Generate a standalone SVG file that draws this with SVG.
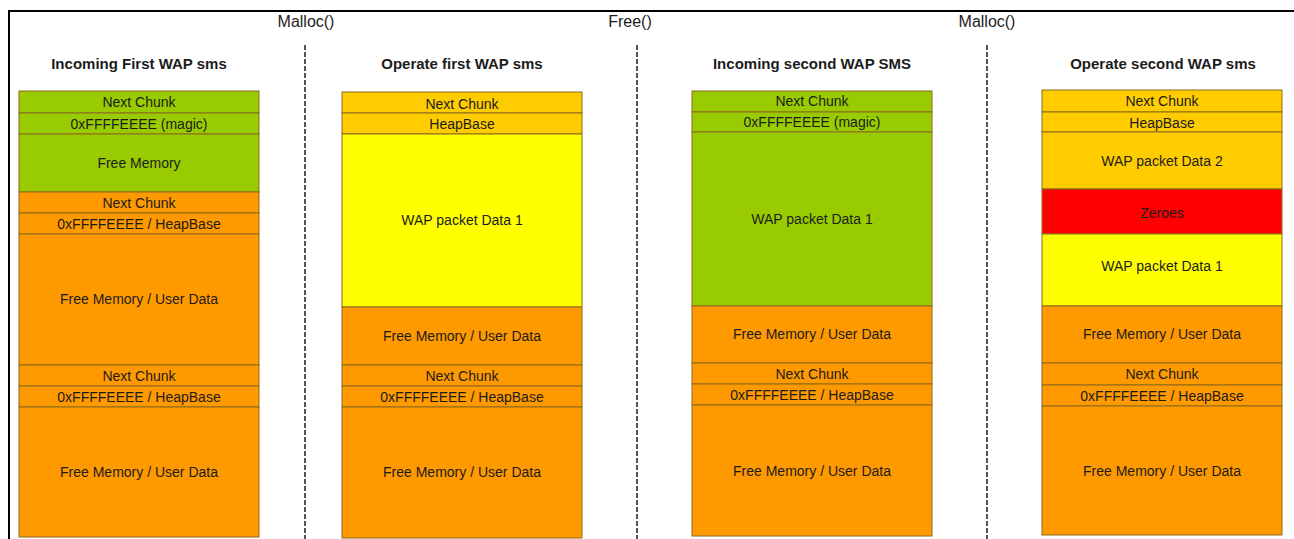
<svg xmlns="http://www.w3.org/2000/svg" width="1294" height="539" viewBox="0 0 1294 539">
<style>
text{font-family:"Liberation Sans",Arial,sans-serif;fill:#1c1c1c}
.op{font-size:16px;text-anchor:middle}
.ttl{font-size:15px;font-weight:bold;text-anchor:middle}
.c{font-size:14px;text-anchor:middle}
g rect{stroke:#8c6a1e;stroke-width:1}
.g{fill:#99CC00}
.o{fill:#FF9900}
.lo{fill:#FFCC00}
.y{fill:#FFFF00}
.r{fill:#FF0000}
.sep{stroke:#555;stroke-width:2;stroke-dasharray:5 2}
</style>
<rect x="0" y="0" width="1294" height="539" fill="#fff"/>
<path d="M9,539 V11 H1294" fill="none" stroke="#000" stroke-width="2"/>
<g id="ops">
<text class="op" x="306" y="27">Malloc()</text>
<text class="op" x="630" y="27">Free()</text>
<text class="op" x="987" y="27">Malloc()</text>
</g>
<g id="connectors">
<line class="sep" x1="305" y1="45" x2="305" y2="539"/>
<line class="sep" x1="637" y1="45" x2="637" y2="539"/>
<line class="sep" x1="987" y1="45" x2="987" y2="539"/>
</g>
<g id="col1">
<text class="ttl" x="139" y="69">Incoming First WAP sms</text>
<rect class="g" x="19" y="91" width="240" height="22"/><text class="c" x="139" y="107">Next Chunk</text>
<rect class="g" x="19" y="113" width="240" height="21"/><text class="c" x="139" y="128.5">0xFFFFEEEE (magic)</text>
<rect class="g" x="19" y="134" width="240" height="58"/><text class="c" x="139" y="168">Free Memory</text>
<rect class="o" x="19" y="192" width="240" height="21"/><text class="c" x="139" y="207.5">Next Chunk</text>
<rect class="o" x="19" y="213" width="240" height="21"/><text class="c" x="139" y="228.5">0xFFFFEEEE / HeapBase</text>
<rect class="o" x="19" y="234" width="240" height="131"/><text class="c" x="139" y="304">Free Memory / User Data</text>
<rect class="o" x="19" y="365" width="240" height="21"/><text class="c" x="139" y="380.5">Next Chunk</text>
<rect class="o" x="19" y="386" width="240" height="21"/><text class="c" x="139" y="401.5">0xFFFFEEEE / HeapBase</text>
<rect class="o" x="19" y="407" width="240" height="130"/><text class="c" x="139" y="477">Free Memory / User Data</text>
</g>
<g id="col2">
<text class="ttl" x="462" y="69">Operate first WAP sms</text>
<rect class="lo" x="342" y="92" width="240" height="21"/><text class="c" x="462" y="109">Next Chunk</text>
<rect class="lo" x="342" y="113" width="240" height="21"/><text class="c" x="462" y="129">HeapBase</text>
<rect class="y" x="342" y="134" width="240" height="173"/><text class="c" x="462" y="225">WAP packet Data 1</text>
<rect class="o" x="342" y="307" width="240" height="58"/><text class="c" x="462" y="341">Free Memory / User Data</text>
<rect class="o" x="342" y="365" width="240" height="21"/><text class="c" x="462" y="381">Next Chunk</text>
<rect class="o" x="342" y="386" width="240" height="21"/><text class="c" x="462" y="402">0xFFFFEEEE / HeapBase</text>
<rect class="o" x="342" y="407" width="240" height="131"/><text class="c" x="462" y="477">Free Memory / User Data</text>
</g>
<g id="col3">
<text class="ttl" x="812" y="69">Incoming second WAP SMS</text>
<rect class="g" x="692" y="91" width="240" height="21"/><text class="c" x="812" y="106">Next Chunk</text>
<rect class="g" x="692" y="112" width="240" height="20"/><text class="c" x="812" y="127">0xFFFFEEEE (magic)</text>
<rect class="g" x="692" y="132" width="240" height="174"/><text class="c" x="812" y="224">WAP packet Data 1</text>
<rect class="o" x="692" y="306" width="240" height="57"/><text class="c" x="812" y="339">Free Memory / User Data</text>
<rect class="o" x="692" y="363" width="240" height="21"/><text class="c" x="812" y="378.5">Next Chunk</text>
<rect class="o" x="692" y="384" width="240" height="21"/><text class="c" x="812" y="399.5">0xFFFFEEEE / HeapBase</text>
<rect class="o" x="692" y="405" width="240" height="131"/><text class="c" x="812" y="476">Free Memory / User Data</text>
</g>
<g id="col4">
<text class="ttl" x="1163" y="69">Operate second WAP sms</text>
<rect class="lo" x="1042" y="90" width="240" height="22"/><text class="c" x="1162" y="106">Next Chunk</text>
<rect class="lo" x="1042" y="112" width="240" height="20"/><text class="c" x="1162" y="127.5">HeapBase</text>
<rect class="lo" x="1042" y="132" width="240" height="57"/><text class="c" x="1162" y="166">WAP packet Data 2</text>
<rect class="r" x="1042" y="189" width="240" height="45"/><text class="c" x="1162" y="218">Zeroes</text>
<rect class="y" x="1042" y="234" width="240" height="72"/><text class="c" x="1162" y="271">WAP packet Data 1</text>
<rect class="o" x="1042" y="306" width="240" height="57"/><text class="c" x="1162" y="339">Free Memory / User Data</text>
<rect class="o" x="1042" y="363" width="240" height="22"/><text class="c" x="1162" y="379">Next Chunk</text>
<rect class="o" x="1042" y="385" width="240" height="21"/><text class="c" x="1162" y="400.5">0xFFFFEEEE / HeapBase</text>
<rect class="o" x="1042" y="406" width="240" height="129"/><text class="c" x="1162" y="476">Free Memory / User Data</text>
</g>
</svg>
